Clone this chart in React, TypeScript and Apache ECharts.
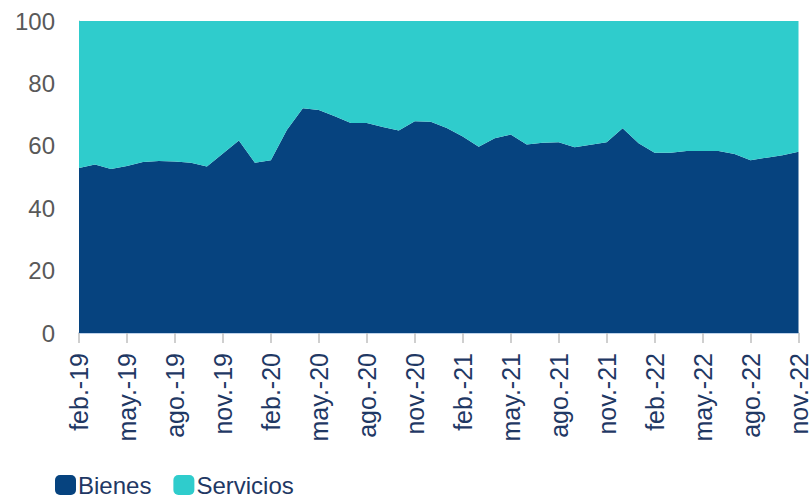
import React, { useEffect, useRef } from "react";
import * as echarts from "echarts";

const months: string[] = [
  "feb.-19", "mar.-19", "abr.-19", "may.-19", "jun.-19", "jul.-19", "ago.-19", "sep.-19", "oct.-19", "nov.-19", "dic.-19",
  "ene.-20", "feb.-20", "mar.-20", "abr.-20", "may.-20", "jun.-20", "jul.-20", "ago.-20", "sep.-20", "oct.-20", "nov.-20", "dic.-20",
  "ene.-21", "feb.-21", "mar.-21", "abr.-21", "may.-21", "jun.-21", "jul.-21", "ago.-21", "sep.-21", "oct.-21", "nov.-21", "dic.-21",
  "ene.-22", "feb.-22", "mar.-22", "abr.-22", "may.-22", "jun.-22", "jul.-22", "ago.-22", "sep.-22", "oct.-22", "nov.-22",
];

const bienes: number[] = [
  52.9, 54.0, 52.6, 53.5, 54.8, 55.1, 55.0, 54.6, 53.4, 57.5, 61.7,
  54.6, 55.4, 65.1, 72.0, 71.5, 69.5, 67.3, 67.3, 66.0, 64.9, 67.9, 67.7,
  65.7, 63.0, 59.7, 62.4, 63.6, 60.4, 61.0, 61.1, 59.5, 60.3, 61.1, 65.6,
  60.8, 57.8, 57.8, 58.3, 58.3, 58.3, 57.4, 55.4, 56.2, 57.0, 58.1,
];

const servicios: number[] = [
  47.1, 46.0, 47.4, 46.5, 45.2, 44.9, 45.0, 45.4, 46.6, 42.5, 38.3,
  45.4, 44.6, 34.9, 28.0, 28.5, 30.5, 32.7, 32.7, 34.0, 35.1, 32.1, 32.3,
  34.3, 37.0, 40.3, 37.6, 36.4, 39.6, 39.0, 38.9, 40.5, 39.7, 38.9, 34.4,
  39.2, 42.2, 42.2, 41.7, 41.7, 41.7, 42.6, 44.6, 43.8, 43.0, 41.9,
];

const FONT = "'Liberation Sans', Arial, sans-serif";

export default function App() {
  const ref = useRef<HTMLDivElement>(null);
  useEffect(() => {
    document.body.style.margin = "0";
    if (!ref.current) return;
    const chart = echarts.init(ref.current, undefined, { renderer: "svg" });
    chart.setOption({
      animation: false,
      backgroundColor: "#ffffff",
      textStyle: { fontFamily: FONT },
      grid: { left: 79, top: 21, width: 720, height: 312, containLabel: false },
      legend: {
        left: 55,
        top: 473,
        padding: 0,
        itemWidth: 21,
        itemHeight: 20,
        itemGap: 22,
        icon: "roundRect",
        textStyle: {
          fontSize: 24,
          lineHeight: 20,
          height: 20,
          color: "#1f3864",
          fontFamily: FONT,
          padding: [0, 0, 0, -3],
        },
        data: ["Bienes", "Servicios"],
      },
      xAxis: {
        type: "category",
        boundaryGap: false,
        data: months,
        axisLine: { lineStyle: { color: "#a9c4e3", width: 1.5 } },
        axisTick: { show: true, interval: 2, length: 10, lineStyle: { color: "#bfbfbf", width: 1.5 } },
        axisLabel: {
          interval: 2,
          rotate: 90,
          margin: 20,
          fontSize: 25,
          color: "#1f3864",
          fontFamily: FONT,
        },
        splitLine: { show: false },
      },
      yAxis: {
        type: "value",
        min: 0,
        max: 100,
        interval: 20,
        axisLine: { show: true, lineStyle: { color: "#bfbfbf", width: 1 } },
        axisTick: { show: false },
        axisLabel: { margin: 24, fontSize: 24, color: "#595959", fontFamily: FONT },
        splitLine: { show: false },
      },
      series: [
        {
          name: "Bienes",
          type: "line",
          stack: "total",
          data: bienes,
          showSymbol: false,
          symbol: "none",
          lineStyle: { width: 0 },
          areaStyle: { color: "#06437f", opacity: 1 },
          itemStyle: { color: "#06437f" },
        },
        {
          name: "Servicios",
          type: "line",
          stack: "total",
          data: servicios,
          showSymbol: false,
          symbol: "none",
          lineStyle: { width: 0 },
          areaStyle: { color: "#2fcccc", opacity: 1 },
          itemStyle: { color: "#2fcccc" },
        },
      ],
    });
    return () => chart.dispose();
  }, []);
  return <div ref={ref} style={{ width: 811, height: 497, position: "absolute", left: 0, top: 0 }} />;
}
